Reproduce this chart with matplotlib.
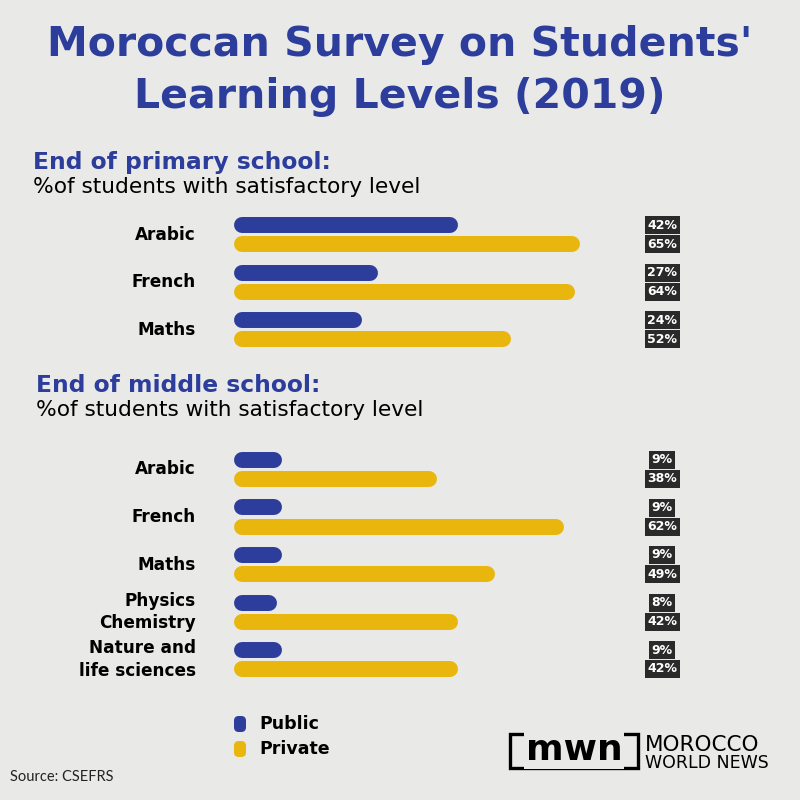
# Moroccan learning levels chart - two sections of rounded horizontal bars
import matplotlib.pyplot as plt
from matplotlib.patches import Rectangle, FancyBboxPatch

# data
primary_subjects = ["Arabic", "French", "Maths"]
primary_public = [42, 27, 24]
primary_private = [65, 64, 52]

middle_subjects = ["Arabic", "French", "Maths", "Physics\nChemistry", "Nature and\nlife sciences"]
middle_public = [9, 9, 9, 8, 9]
middle_private = [38, 62, 49, 42, 42]

series_names = ["Public", "Private"]

BLUE = "#2c3d9c"
YELLOW = "#e8b60d"
BG = "#e9e9e8"
DARK = "#2a2a2a"
FONT = "DejaVu Sans"

W = H = 800
fig = plt.figure(figsize=(8, 8), dpi=100)
fig.patch.set_facecolor(BG)


def fx(px):
    return px / W


def fy(py):
    return 1 - py / H


# bar area: x=234px is 0%, 5.32 px per percent
X0 = 234
PX_PER = 5.32
GROUP = 47.5
BAR_LW = 11.5  # points, ~15px
CAP = 7.6 / PX_PER  # round cap radius in percent units


def draw_section(subjects, public, private, center_first):
    n = len(subjects)
    top = center_first - GROUP / 2
    bottom = top + n * GROUP
    ax = fig.add_axes([fx(X0), fy(bottom), 100 * PX_PER / W, (bottom - top) / H])
    ax.set_xlim(0, 100)
    ax.set_ylim(n - 0.5, -0.5)
    ax.axis("off")
    for i, (subj, pu, pr) in enumerate(zip(subjects, public, private)):
        for off, val, col in [(-0.2, pu, BLUE), (0.2, pr, YELLOW)]:
            ax.plot([CAP, val - CAP], [i + off, i + off], color=col, lw=BAR_LW,
                    solid_capstyle="round")
            ax.text(80.5, i + off, f"{val}%", ha="center", va="center",
                    fontsize=9, fontweight="bold", color="white", family=FONT,
                    bbox=dict(boxstyle="square,pad=0.2", fc=DARK, ec="none"))
        ax.text(-7.2, i, subj, ha="right", va="center", fontsize=12.2,
                fontweight="bold", color="black", family=FONT,
                linespacing=1.35, clip_on=False)
    return ax


draw_section(primary_subjects, primary_public, primary_private, 234.5)
draw_section(middle_subjects, middle_public, middle_private, 469.5)

# titles
fig.text(0.5, fy(45), "Moroccan Survey on Students'", ha="center", va="center",
         fontsize=29.5, fontweight="bold", color=BLUE, family=FONT)
fig.text(0.5, fy(97), "Learning Levels (2019)", ha="center", va="center",
         fontsize=29.5, fontweight="bold", color=BLUE, family=FONT)

fig.text(fx(33), fy(163), "End of primary school:", ha="left", va="center",
         fontsize=16.8, fontweight="bold", color=BLUE, family=FONT)
fig.text(fx(33), fy(187), "%of students with satisfactory level", ha="left",
         va="center", fontsize=15.6, color="black", family=FONT)
fig.text(fx(36), fy(386), "End of middle school:", ha="left", va="center",
         fontsize=16.8, fontweight="bold", color=BLUE, family=FONT)
fig.text(fx(36), fy(410), "%of students with satisfactory level", ha="left",
         va="center", fontsize=15.6, color="black", family=FONT)

# legend
for k, (name, col) in enumerate(zip(series_names, [BLUE, YELLOW])):
    yc = 724 + 25 * k
    fig.patches.append(FancyBboxPatch((fx(234), fy(yc + 8)), 12 / W, 16 / H,
                                      boxstyle="round,pad=0,rounding_size=0.006",
                                      fc=col, ec="none", transform=fig.transFigure))
    fig.text(fx(259), fy(yc), name, ha="left", va="center", fontsize=12.5,
             fontweight="bold", color="black", family=FONT)

# source
fig.text(fx(10), fy(777), "Source: CSEFRS", ha="left", va="center",
         fontsize=10.5, color="#222222", family=["Liberation Sans Narrow", "Lato"])

# logo
fig.patches.append(Rectangle((fx(510), fy(768)), 128 / W, 34 / H, fill=False,
                             ec="black", lw=2.4, transform=fig.transFigure))
fig.text(fx(574), fy(750), "mwn", ha="center", va="center", fontsize=26,
         fontweight="bold", color="black", family=FONT,
         bbox=dict(boxstyle="square,pad=0.05", fc=BG, ec="none"))
fig.text(fx(645), fy(745), "MOROCCO", ha="left", va="center", fontsize=15.5,
         color="black", family=FONT)
fig.text(fx(645), fy(763), "WORLD NEWS", ha="left", va="center", fontsize=12.5,
         color="black", family=FONT)

fig.savefig("out.png", dpi=100, facecolor=BG)
